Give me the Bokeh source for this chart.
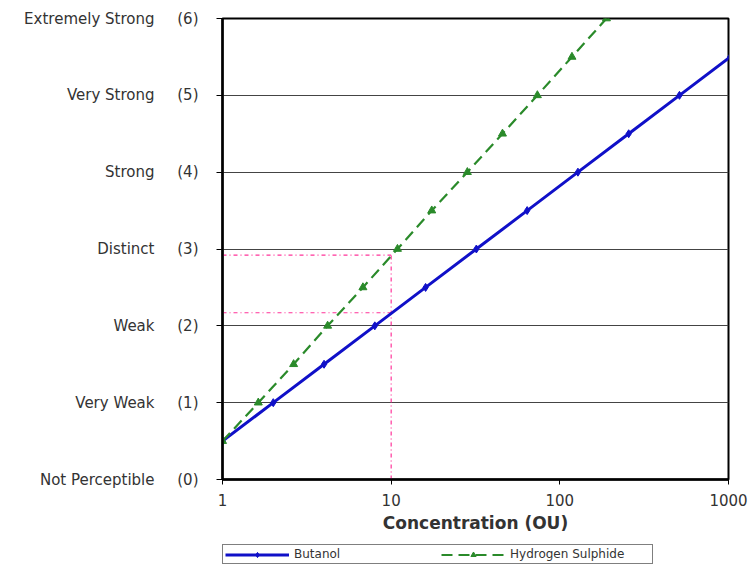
from bokeh.plotting import figure
from bokeh.layouts import column
from bokeh.models import LinearAxis, Range1d, FixedTicker, Legend, LegendItem
from bokeh.embed import file_html
from bokeh.resources import INLINE

intensity_levels = [0, 1, 2, 3, 4, 5, 6]
intensity_names = ["Not Perceptible", "Very Weak", "Weak", "Distinct", "Strong", "Very Strong", "Extremely Strong"]
intensity_codes = ["(0)", "(1)", "(2)", "(3)", "(4)", "(5)", "(6)"]

butanol_conc = [1, 2, 4, 8, 16, 32, 64, 128, 256, 512, 1024]
butanol_int = [0.5, 1.0, 1.5, 2.0, 2.5, 3.0, 3.5, 4.0, 4.5, 5.0, 5.5]

h2s_conc = [1, 1.63, 2.64, 4.2, 6.8, 10.9, 17.4, 28.3, 45.7, 73.6, 118, 189]
h2s_int = [0.5, 1.0, 1.5, 2.0, 2.5, 3.0, 3.5, 4.0, 4.5, 5.0, 5.5, 6.0]

x_ticks = [1, 10, 100, 1000]
x_tick_labels = ["1", "10", "100", "1000"]

ref_conc = [1, 10]
ref_butanol = [2.17, 2.17]
ref_h2s = [2.92, 2.92]

FONT = "DejaVu Sans"
TXT = "#333333"
blue = "#1010c8"
green = "#2a8a2a"
pink = "#ff3399"

p = figure(width=753, height=544, x_axis_type="log", x_range=Range1d(1, 1000),
           y_range=Range1d(0, 6), output_backend="svg", toolbar_location=None,
           min_border_left=222, min_border_right=25, min_border_top=18, min_border_bottom=65)
p.frame_width = 506
p.frame_height = 461
p.background_fill_color = "white"
p.outline_line_color = "black"
p.outline_line_width = 2

# grid
p.xgrid.visible = False
p.ygrid.ticker = FixedTicker(ticks=intensity_levels)
p.ygrid.grid_line_color = "#444444"
p.ygrid.grid_line_width = 1

# y axis: codes
ya = p.yaxis[0]
ya.ticker = FixedTicker(ticks=intensity_levels)
ya.major_label_overrides = {v: c for v, c in zip(intensity_levels, intensity_codes)}
ya.axis_line_color = "black"
ya.axis_line_width = 2.5
ya.major_tick_in = 0
ya.major_tick_out = 6
ya.major_tick_line_width = 1
ya.minor_tick_line_color = None
ya.major_label_text_font = FONT
ya.major_label_text_font_size = "15px"
ya.major_label_text_color = TXT
ya.major_label_standoff = 18

# y axis: names
ya2 = LinearAxis(ticker=FixedTicker(ticks=intensity_levels))
ya2.major_label_overrides = {v: n for v, n in zip(intensity_levels, intensity_names)}
ya2.axis_line_color = None
ya2.major_tick_line_color = None
ya2.minor_tick_line_color = None
ya2.major_label_text_font = FONT
ya2.major_label_text_font_size = "15px"
ya2.major_label_text_color = TXT
ya2.major_label_standoff = 14
p.add_layout(ya2, "left")

# x axis
xa = p.xaxis[0]
xa.ticker = FixedTicker(ticks=x_ticks)
xa.major_label_overrides = {v: s for v, s in zip(x_ticks, x_tick_labels)}
xa.axis_line_color = "black"
xa.axis_line_width = 2.5
xa.major_tick_in = 0
xa.major_tick_out = 5
xa.minor_tick_line_color = None
xa.major_label_text_font = FONT
xa.major_label_text_font_size = "15px"
xa.major_label_text_color = TXT
xa.major_label_standoff = 9
xa.axis_label = "Concentration (OU)"
xa.axis_label_text_font = FONT
xa.axis_label_text_font_size = "17px"
xa.axis_label_text_font_style = "bold"
xa.axis_label_text_color = TXT
xa.axis_label_standoff = 4

# pink reference lines
p.line(ref_conc, ref_h2s, line_color=pink, line_width=1.2, line_dash="4 3 1 3")
p.line(ref_conc, ref_butanol, line_color=pink, line_width=1.2, line_dash="4 3 1 3")
p.line([ref_conc[1], ref_conc[1]], [0, ref_h2s[1]], line_color=pink, line_width=1.2, line_dash="4 3 1 3")

# series
p.line(butanol_conc, butanol_int, line_color=blue, line_width=3)
p.scatter(butanol_conc, butanol_int, marker="diamond", size=8, color=blue)
p.line(h2s_conc, h2s_int, line_color=green, line_width=2.2, line_dash="11 6")
p.scatter(h2s_conc, h2s_int, marker="triangle", size=8, color=green)

# legend strip: separate small figure whose renderers share the series styles
# (its ranges keep those renderers out of view; only the legend shows)
lg = figure(width=753, height=20, x_range=Range1d(-3, -2), y_range=Range1d(-3, -2),
            output_backend="svg", toolbar_location=None,
            min_border_left=0, min_border_right=0, min_border_top=0, min_border_bottom=0)
lg.axis.visible = False
lg.grid.visible = False
lg.outline_line_color = None
bl = lg.line(butanol_conc, butanol_int, line_color=blue, line_width=3)
bm = lg.scatter(butanol_conc, butanol_int, marker="diamond", size=8, color=blue)
gl = lg.line(h2s_conc, h2s_int, line_color=green, line_width=2.2, line_dash="11 6")
gm = lg.scatter(h2s_conc, h2s_int, marker="triangle", size=8, color=green)

legend = Legend(items=[LegendItem(label="Butanol", renderers=[bl, bm]),
                       LegendItem(label="Hydrogen Sulphide", renderers=[gl, gm])],
                orientation="horizontal", location=(0, 0))
legend.label_text_font = FONT
legend.label_text_font_size = "12px"
legend.label_text_color = TXT
legend.border_line_color = "black"
legend.border_line_width = 1.5
legend.background_fill_color = "white"
legend.glyph_width = 64
legend.glyph_height = 13
legend.label_height = 13
legend.label_width = 140
legend.label_standoff = 5
legend.spacing = 7
legend.padding = 2
legend.margin = 0
lg.add_layout(legend, "center")

layout = column(p, lg, spacing=0)
open("out.html", "w").write(file_html(layout, INLINE))
